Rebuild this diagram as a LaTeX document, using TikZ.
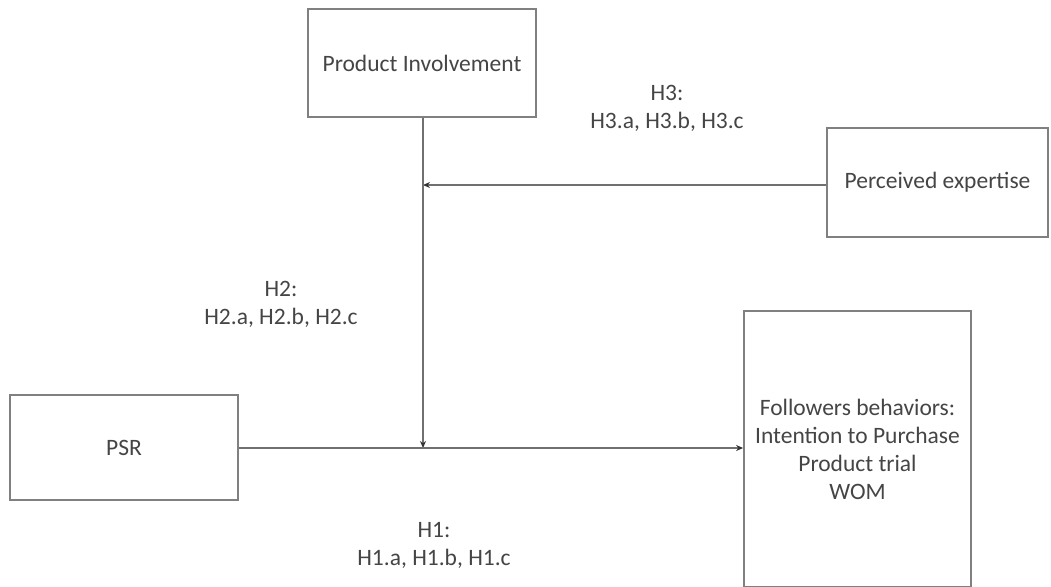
\documentclass[tikz,border=0pt]{standalone}
\usepackage{fontspec}
\setmainfont{Carlito}
\usetikzlibrary{arrows.meta}
\definecolor{txt}{HTML}{454545}
\definecolor{boxc}{HTML}{808080}
\definecolor{linec}{HTML}{707070}
\tikzset{
  conbox/.style={draw=boxc, line width=1.8pt, fill=white, inner sep=0pt},
  lbl/.style={text=txt, font=\fontsize{23.5}{28}\selectfont, align=center, inner sep=0pt},
  conn/.style={draw=linec, line width=1.3pt, -{Stealth[length=7pt,width=6pt,color=black!80]}},
}
\begin{document}
\begin{tikzpicture}[x=1pt,y=-1pt]
\useasboundingbox (0,0) rectangle (1051,586);
% boxes
\node[conbox, minimum width=228pt, minimum height=108pt] (pi) at (422,63) {};
\node[lbl] at (pi.center) {Product Involvement};
\node[conbox, minimum width=221pt, minimum height=109pt] (pe) at (937.5,182.5) {};
\node[lbl] at (pe.center) {Perceived expertise};
\node[conbox, minimum width=228pt, minimum height=105pt] (psr) at (124,447.5) {};
\node[lbl] at (psr.center) {PSR};
\node[conbox, minimum width=227pt, minimum height=276pt] (fb) at (857.5,449) {};
\node[lbl] at (fb.center) {Followers behaviors:\\Intention to Purchase\\Product trial\\WOM};
% junction coordinates
\coordinate (j1) at (423,185);
\coordinate (j2) at (423,448);
% connectors
\draw[conn] (pe.west |- 0,185) -- (j1);
\draw[conn] (pi.south -| j1) -- (j2);
\draw[conn] (psr.east |- j2) -- (fb.west |- j2);
% labels
\node[lbl] (h3) at (667,108) {H3:\\H3.a, H3.b, H3.c};
\node[lbl] (h2) at (281,304) {H2:\\H2.a, H2.b, H2.c};
\node[lbl] (h1) at (434,545) {H1:\\H1.a, H1.b, H1.c};
\end{tikzpicture}
\end{document}
